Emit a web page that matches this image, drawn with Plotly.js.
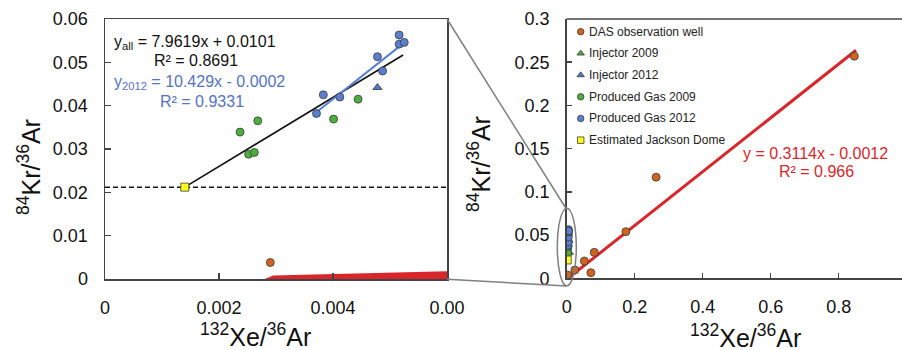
<!DOCTYPE html>
<html><head><meta charset="utf-8">
<script src="https://cdn.plot.ly/plotly-3.0.1.min.js"></script>
<style>html,body{margin:0;padding:0;background:#fff}#chart{width:902px;height:350px}</style>
</head><body><div id="chart"></div>
<script>
// ---------- data ----------
const seriesNames = ['DAS observation well','Injector 2009','Injector 2012','Produced Gas 2009','Produced Gas 2012','Estimated Jackson Dome'];
const dasX = [0.0029, 0.024, 0.052, 0.071, 0.081, 0.174, 0.263, 0.846];
const dasY = [0.0038, 0.0096, 0.020, 0.0065, 0.030, 0.054, 0.117, 0.257];
const inj2009X = [0.0065];
const inj2009Y = [0.030];
const inj2012X = [0.00478];
const inj2012Y = [0.0442];
const pg2009X = [0.00237, 0.00268, 0.00252, 0.00262, 0.00401, 0.00444];
const pg2009Y = [0.0339, 0.0365, 0.0288, 0.0292, 0.0369, 0.0415];
const pg2012X = [0.00371, 0.00383, 0.00412, 0.00478, 0.00487, 0.00516, 0.00516, 0.00525];
const pg2012Y = [0.0382, 0.0425, 0.0420, 0.0513, 0.0480, 0.0563, 0.0542, 0.0546];
const jacksonX = [0.0014];
const jacksonY = [0.0212];
const fitAllX = [0.0014, 0.00523];
const fitAllY = [0.0212, 0.0517];
const fit2012X = [0.00368, 0.00514];
const fit2012Y = [0.0382, 0.0534];
const fitDasX = [0.0039, 0.851];
const fitDasY = [0, 0.2638];
const jdLevelX = [0, 0.006];
const jdLevelY = [0.0212, 0.0212];
const dasBandX = [0.0028, 0.00295, 0.006, 0.006];
const dasBandY = [0, 0.0008, 0.0018, 0];
const leftXTicks = [0, 0.002, 0.004, 0.006];
const leftXTickText = ['0', '0.002', '0.004', '0.00'];
const eqAll = ['y<sub>all</sub> = 7.9619x + 0.0101', 'R² = 0.8691'];
const eq2012 = ['y<sub>2012</sub> = 10.429x - 0.0002', 'R² = 0.9331'];
const eqDas = ['y = 0.3114x - 0.0012', 'R² = 0.966'];

// ---------- styles ----------
const W = 902, H = 350;
const px = v => v / W, py = v => 1 - v / H;
const FONT = 'Liberation Sans, Arial, sans-serif';
const C = {
  das: '#cf6420', inj09: '#4cae3c', inj12: '#5577c4', pg09: '#4cae3c', pg12: '#5b7fd0', jd: '#ffff1a',
  edge: '#3a3a3a', red: '#d9262a', blueTxt: '#5473c4', grey: '#7f7f7f', axis: '#444444'
};
const symbols = ['circle', 'triangle-up', 'triangle-up', 'circle', 'circle', 'square'];
const colors = [C.das, C.inj09, C.inj12, C.pg09, C.pg12, C.jd];
const seriesX = [dasX, inj2009X, inj2012X, pg2009X, pg2012X, jacksonX];
const seriesY = [dasY, inj2009Y, inj2012Y, pg2009Y, pg2012Y, jacksonY];

const traces = [];
function lineTrace(x, y, xa, ya, color, width, dash) {
  return {x, y, xaxis: xa, yaxis: ya, mode: 'lines', line: {color, width, dash: dash || 'solid'}, hoverinfo: 'skip', showlegend: false};
}
// left panel
traces.push({x: dasBandX, y: dasBandY, xaxis: 'x', yaxis: 'y', mode: 'lines', fill: 'toself', fillcolor: C.red, line: {color: C.red, width: 0}, showlegend: false, hoverinfo: 'skip'});
traces.push(lineTrace(jdLevelX, jdLevelY, 'x', 'y', '#111', 1.5, '5px,3px'));
traces.push(lineTrace(fitAllX, fitAllY, 'x', 'y', '#111', 1.6));
traces.push(lineTrace(fit2012X, fit2012Y, 'x', 'y', '#5b7fd0', 2));
// right panel
traces.push(lineTrace(fitDasX, fitDasY, 'x2', 'y2', C.red, 3));

const drawOrder = [0, 1, 2, 3, 4, 5];
[['x', 'y'], ['x2', 'y2']].forEach(([xa, ya]) => {
  drawOrder.forEach(i => {
    traces.push({
      x: seriesX[i], y: seriesY[i], xaxis: xa, yaxis: ya, mode: 'markers', name: seriesNames[i],
      marker: {symbol: symbols[i], size: symbols[i] === 'triangle-up' ? 8 : 8, color: colors[i], line: {color: C.edge, width: 0.8}},
      showlegend: false, cliponaxis: true
    });
  });
});

// manual legend (marker + label) on an overlay pixel axis
const legX = 580.7, legY0 = 31.7, legDy = 21.7;
seriesNames.forEach((n, i) => {
  traces.push({
    x: [legX], y: [legY0 + i * legDy], xaxis: 'x3', yaxis: 'y3', mode: 'markers', hoverinfo: 'skip', showlegend: false,
    marker: {symbol: symbols[i], size: 6.5, color: colors[i], line: {color: C.edge, width: 0.8}}
  });
});

const annotations = [];
seriesNames.forEach((n, i) => {
  annotations.push({text: n, xref: 'paper', yref: 'paper', x: px(587), y: py(legY0 + i * legDy), xanchor: 'left', yanchor: 'middle', showarrow: false, font: {family: FONT, size: 12, color: '#222'}});
});
function ann(text, x, y, size, color, xanchor, angle) {
  annotations.push({text, xref: 'paper', yref: 'paper', x: px(x), y: py(y), xanchor: xanchor || 'center', yanchor: 'middle', showarrow: false, textangle: angle || 0, font: {family: FONT, size, color}});
}
ann(eqAll[0], 112, 42, 16, '#111', 'left');
ann(eqAll[1], 152, 60, 16, '#111', 'left');
ann(eq2012[0], 112, 83, 16, C.blueTxt, 'left');
ann(eq2012[1], 158, 101, 16, C.blueTxt, 'left');
ann(eqDas[0], 815, 153, 16, C.red, 'center');
ann(eqDas[1], 816, 171, 16, C.red, 'center');
// axis titles
ann('<sup>132</sup>Xe/<sup>36</sup>Ar', 255, 335, 25, '#111');
ann('<sup>132</sup>Xe/<sup>36</sup>Ar', 745, 336, 25, '#111');
ann('<sup>84</sup>Kr/<sup>36</sup>Ar', 29, 167, 25, '#111', 'center', -90);
ann('<sup>84</sup>Kr/<sup>36</sup>Ar', 479, 164, 25, '#111', 'center', -90);

const shapes = [
  {type: 'line', xref: 'paper', yref: 'paper', x0: px(566.7), x1: px(902), y0: py(19), y1: py(19), line: {color: C.axis, width: 1.5}},
  {type: 'circle', xref: 'paper', yref: 'paper', x0: px(557.3), x1: px(576.3), y0: py(208.3), y1: py(285.9), line: {color: C.grey, width: 1.5}},
  {type: 'line', xref: 'paper', yref: 'paper', x0: px(447), y0: py(19), x1: px(566), y1: py(208.5), line: {color: C.grey, width: 1.5}},
  {type: 'line', xref: 'paper', yref: 'paper', x0: px(447), y0: py(279.3), x1: px(566.7), y1: py(285.9), line: {color: C.grey, width: 1.5}}
];

const tickFont = {family: FONT, size: 18, color: '#111'};
const axBase = {showgrid: false, zeroline: false, showline: true, linecolor: C.axis, linewidth: 1.5, ticks: 'inside', ticklen: 6, tickcolor: C.axis, tickwidth: 1.5, tickfont: tickFont, ticklabelstandoff: 12, fixedrange: true};

const layout = {
  width: W, height: H, margin: {l: 0, r: 0, t: 0, b: 0}, paper_bgcolor: '#fff', plot_bgcolor: 'rgba(0,0,0,0)', showlegend: false,
  xaxis: Object.assign({}, axBase, {domain: [px(105), px(447)], range: [0, 0.006], tickvals: leftXTicks, ticktext: leftXTickText, mirror: true, anchor: 'y'}),
  yaxis: Object.assign({}, axBase, {domain: [py(279), py(19)], range: [0, 0.06], dtick: 0.01, tick0: 0, mirror: true, anchor: 'x'}),
  xaxis2: Object.assign({}, axBase, {domain: [px(566.7), 1], range: [0, (902 - 566.7) / 340], dtick: 0.2, tick0: 0, ticklen: 5, anchor: 'y2'}),
  yaxis2: Object.assign({}, axBase, {domain: [py(278.3), py(19)], range: [0, 0.3], dtick: 0.05, tick0: 0, ticklen: 5, anchor: 'x2'}),
  xaxis3: {domain: [0, 1], range: [0, W], visible: false, fixedrange: true, anchor: 'y3'},
  yaxis3: {domain: [0, 1], range: [H, 0], visible: false, fixedrange: true, anchor: 'x3'},
  annotations, shapes, font: {family: FONT}
};

Plotly.newPlot('chart', traces, layout, {staticPlot: true, displayModeBar: false});
</script></body></html>
